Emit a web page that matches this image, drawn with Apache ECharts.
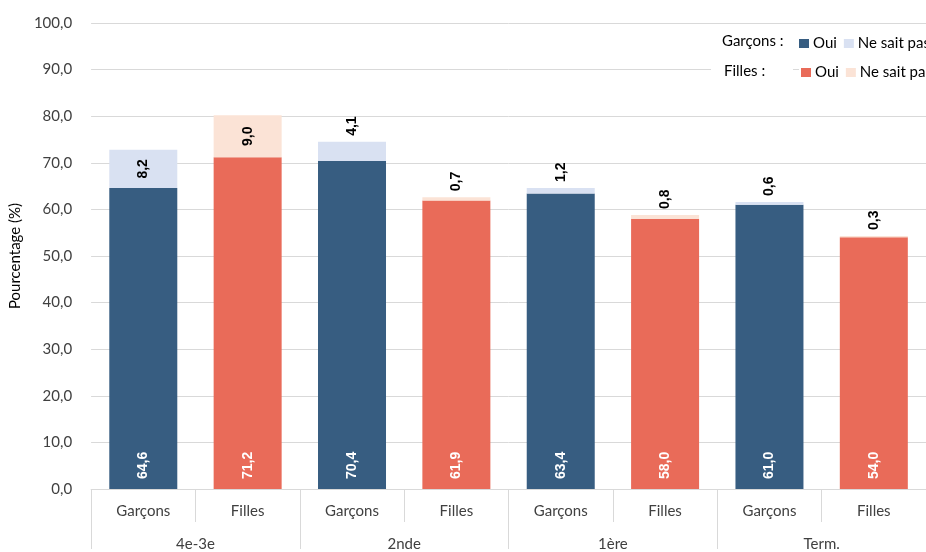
<!DOCTYPE html>
<html>
<head>
<meta charset="utf-8">
<script src="https://cdn.jsdelivr.net/npm/echarts@6/dist/echarts.min.js"></script>
<style>
  html, body { margin: 0; padding: 0; background: #fff; }
  #chart { width: 926px; height: 552px; }
</style>
</head>
<body>
<div id="chart"></div>
<script>
// School levels and the sub-group shown under each one
const groups = ['4e-3e', '2nde', '1ère', 'Term.'];
const subgroups = ['Garçons', 'Filles'];

// Percentages per level
const garconsOui = [64.6, 70.4, 63.4, 61.0];
const garconsNsp = [8.2, 4.1, 1.2, 0.6];
const fillesOui = [71.2, 61.9, 58.0, 54.0];
const fillesNsp = [9.0, 0.7, 0.8, 0.3];

// Y axis range
const yMin = 0, yMax = 100, yStep = 10;

const COLORS = {
  gOui: '#375D81',
  gNsp: '#D9E1F2',
  fOui: '#E96B59',
  fNsp: '#FBE3D6'
};
const FONT = 'Lato';
const VALUE_FONT = 'Liberation Sans';

// One category per bar: Garçons / Filles alternating inside each level
const categories = [];
groups.forEach(() => subgroups.forEach(s => categories.push(s)));

// Place a per-level array on the bar slots of one sub-group
function spread(values, slot) {
  const out = categories.map(() => '-');
  values.forEach((v, i) => { out[i * 2 + slot] = v; });
  return out;
}

const fmt = v => Number(v).toFixed(1).replace('.', ',');

// Labels for the "ne sait pas" segments: inside when the segment is tall, above otherwise
function nspData(values, slot) {
  return spread(values, slot).map(v => {
    if (v === '-') return v;
    const big = v >= 5;
    return {
      value: v,
      label: big
        ? { position: 'inside', align: 'center', verticalAlign: 'middle' }
        : { position: 'top', align: 'left', verticalAlign: 'middle', distance: 6 }
    };
  });
}

const ouiLabel = {
  show: true,
  position: 'insideBottom',
  distance: 10,
  rotate: 90,
  align: 'left',
  verticalAlign: 'middle',
  color: '#fff',
  fontFamily: VALUE_FONT,
  fontWeight: 'bold',
  fontSize: 14,
  formatter: p => fmt(p.value)
};
const nspLabel = {
  show: true,
  rotate: 90,
  color: '#000',
  fontFamily: VALUE_FONT,
  fontWeight: 'bold',
  fontSize: 14,
  formatter: p => fmt(p.value)
};

const barWidth = 68;

const legendNames = {
  'Garçons - Oui': 'Oui',
  'Garçons - Ne sait pas': 'Ne sait pas',
  'Filles - Oui': 'Oui',
  'Filles - Ne sait pas': 'Ne sait pas'
};

const legendCommon = {
  orient: 'horizontal',
  icon: 'rect',
  width: 240,
  itemWidth: 10,
  itemHeight: 9,
  itemGap: 7,
  padding: [2, 0, 2, 2],
  backgroundColor: '#fff',
  selectedMode: false,
  textStyle: { fontFamily: FONT, fontSize: 15, color: '#000', padding: [0, 0, 0, -1] },
  formatter: n => legendNames[n]
};

const chart = echarts.init(document.getElementById('chart'), null, { renderer: 'canvas' });

chart.setOption({
  animation: false,
  backgroundColor: '#fff',
  grid: { left: 86, right: -8, top: 23, bottom: 60, containLabel: false },
  legend: [
    Object.assign({}, legendCommon, { left: 797, top: 34, data: ['Garçons - Oui', 'Garçons - Ne sait pas'] }),
    Object.assign({}, legendCommon, { left: 799, top: 63, data: ['Filles - Oui', 'Filles - Ne sait pas'] })
  ],
  graphic: [
    { type: 'rect', left: 711, top: 30, z: 90, shape: { width: 82, height: 56 }, style: { fill: '#fff' } },
    { type: 'text', left: 722, top: 34, z: 100, style: { text: 'Garçons :', fontFamily: FONT, fontSize: 15, fill: '#000' } },
    { type: 'text', left: 724, top: 64, z: 100, style: { text: 'Filles :', fontFamily: FONT, fontSize: 15, fill: '#000' } }
  ],
  xAxis: [
    {
      type: 'category',
      data: categories,
      position: 'bottom',
      axisLine: { show: true, lineStyle: { color: '#D9D9D9', width: 1 } },
      axisTick: { show: true, alignWithLabel: false, length: 33, lineStyle: { color: '#D9D9D9' } },
      axisLabel: { color: '#404040', fontFamily: FONT, fontSize: 15, margin: 15 },
      splitLine: { show: false }
    },
    {
      type: 'category',
      data: groups,
      position: 'bottom',
      axisLine: { show: false },
      axisTick: { show: true, alignWithLabel: false, length: 60, lineStyle: { color: '#D9D9D9' } },
      axisLabel: { color: '#404040', fontFamily: FONT, fontSize: 15, margin: 48 },
      splitLine: { show: false }
    }
  ],
  yAxis: {
    type: 'value',
    min: yMin,
    max: yMax,
    interval: yStep,
    name: 'Pourcentage (%)',
    nameLocation: 'middle',
    nameGap: 60,
    nameTextStyle: { fontFamily: FONT, fontSize: 15, color: '#000' },
    axisLine: { show: false },
    axisTick: { show: false },
    axisLabel: { color: '#404040', fontFamily: FONT, fontSize: 15, margin: 19, formatter: v => fmt(v) },
    splitLine: { lineStyle: { color: '#D9D9D9', width: 1 } }
  },
  series: [
    {
      name: 'Garçons - Oui', type: 'bar', stack: 'total', barWidth,
      itemStyle: { color: COLORS.gOui },
      label: ouiLabel,
      data: spread(garconsOui, 0)
    },
    {
      name: 'Filles - Oui', type: 'bar', stack: 'total', barWidth,
      itemStyle: { color: COLORS.fOui },
      label: ouiLabel,
      data: spread(fillesOui, 1)
    },
    {
      name: 'Garçons - Ne sait pas', type: 'bar', stack: 'total', barWidth,
      itemStyle: { color: COLORS.gNsp },
      label: nspLabel,
      data: nspData(garconsNsp, 0)
    },
    {
      name: 'Filles - Ne sait pas', type: 'bar', stack: 'total', barWidth,
      itemStyle: { color: COLORS.fNsp },
      label: nspLabel,
      data: nspData(fillesNsp, 1)
    }
  ]
});
</script>
</body>
</html>
